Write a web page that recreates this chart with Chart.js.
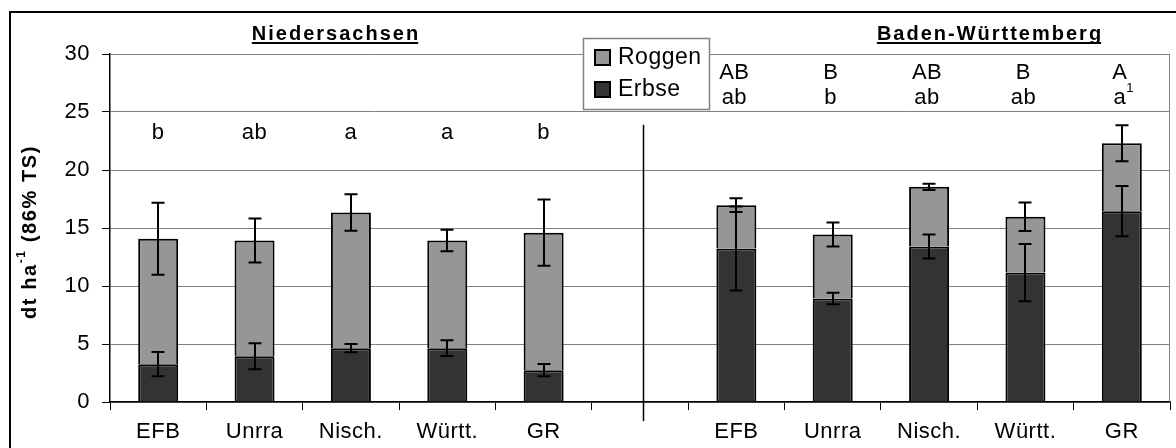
<!DOCTYPE html>
<html><head><meta charset="utf-8">
<script src="https://cdn.jsdelivr.net/npm/chart.js@4/dist/chart.umd.min.js"></script>
<style>html,body{margin:0;padding:0;background:#fff;}#wrap{width:1176px;height:448px;}</style>
</head><body><div id="wrap"><canvas id="c" width="1176" height="448"></canvas></div>
<script>
// ---- data ----
const categories = ['EFB','Unrra','Nisch.','Württ.','GR','','EFB','Unrra','Nisch.','Württ.','GR'];
const erbse      = [3.26, 3.95, 4.64, 4.64, 2.74, null, 13.23, 8.92, 13.40, 11.16, 16.45];
const roggen     = [10.81, 9.97, 11.70, 9.28, 11.86, null, 3.74, 5.52, 5.15, 4.81, 5.86];
const erbseErr   = [1.05, 1.12, 0.35, 0.68, 0.53, null, 3.62, 0.50, 1.03, 2.47, 2.17];
const totalErr   = [3.10, 1.90, 1.57, 0.93, 2.85, null, 0.60, 1.03, 0.27, 1.22, 1.55];
const lettersLower = ['b','ab','a','a','b','','ab','b','ab','ab','a'];
const lettersUpper = ['','','','','','','AB','B','AB','B','A'];
const footnotes    = ['','','','','','','','','','','1'];
const groupTitles  = ['Niedersachsen','Baden-Württemberg'];
const yTicks = [0,5,10,15,20,25,30];
const yTitle = ['dt ha','-1',' (86% TS)'];

const FONT = '"Liberation Sans", Arial, Helvetica, sans-serif';
function spacing(ctx, v){ try { ctx.letterSpacing = v; } catch(e){} }

const deco = {
  id:'deco',
  beforeDraw(chart){ spacing(chart.ctx, '0.5px'); },
  afterDatasetsDraw(chart){
    const ctx = chart.ctx, x = chart.scales.x, y = chart.scales.y;
    ctx.save();
    ctx.strokeStyle = '#000'; ctx.lineWidth = 2;
    const cap = 6.5;
    function eb(px, v, e){
      const t = y.getPixelForValue(v+e), b = y.getPixelForValue(v-e);
      ctx.beginPath();
      ctx.moveTo(px, t); ctx.lineTo(px, b);
      ctx.moveTo(px-cap, t); ctx.lineTo(px+cap, t);
      ctx.moveTo(px-cap, b); ctx.lineTo(px+cap, b);
      ctx.stroke();
    }
    categories.forEach((c,i)=>{
      if (erbse[i]==null) return;
      const px = Math.round(x.getPixelForValue(i));
      eb(px, erbse[i], erbseErr[i]);
      eb(px, erbse[i]+roggen[i], totalErr[i]);
    });
    ctx.restore();
  },
  afterDraw(chart){
    const ctx = chart.ctx, x = chart.scales.x, y = chart.scales.y, a = chart.chartArea;
    ctx.save();
    // right plot border
    ctx.strokeStyle = '#808080'; ctx.lineWidth = 1;
    ctx.beginPath(); ctx.moveTo(a.right-0.5, a.top); ctx.lineTo(a.right-0.5, a.bottom); ctx.stroke();
    // divider
    const dx = Math.round(x.getPixelForValue(5)) + 3.5;
    ctx.strokeStyle = '#000'; ctx.lineWidth = 1.5;
    ctx.beginPath(); ctx.moveTo(dx, y.getPixelForValue(23.9)); ctx.lineTo(dx, a.bottom + 19); ctx.stroke();
    // letters
    spacing(ctx, '0.5px');
    ctx.fillStyle = '#000'; ctx.textAlign = 'center'; ctx.textBaseline = 'middle';
    ctx.font = '22px ' + FONT;
    categories.forEach((c,i)=>{
      const px = x.getPixelForValue(i) - 2;
      if (lettersUpper[i]) {
        ctx.fillText(lettersUpper[i], px, y.getPixelForValue(28.35));
        ctx.fillText(lettersLower[i], px, y.getPixelForValue(26.25));
        if (footnotes[i]) {
          const w = ctx.measureText(lettersLower[i]).width;
          ctx.save(); ctx.font = '13px ' + FONT; ctx.textAlign='left';
          ctx.fillText(footnotes[i], px + w/2, y.getPixelForValue(26.25) - 9);
          ctx.restore();
        }
      } else if (lettersLower[i]) {
        ctx.fillText(lettersLower[i], px + 2, y.getPixelForValue(23.2));
      }
    });
    // group titles
    ctx.font = 'bold 20px ' + FONT;
    spacing(ctx, '2px');
    const tc = [336, 990];
    groupTitles.forEach((t,k)=>{
      const w = ctx.measureText(t).width;
      ctx.textAlign = 'left'; ctx.textBaseline = 'alphabetic';
      ctx.fillText(t, tc[k]-w/2, 40);
      ctx.fillRect(tc[k]-w/2, 42, w-2, 2);
    });
    // legend
    const lx = 583, ly = 38, lw = 126, lh = 71;
    ctx.fillStyle = '#fff'; ctx.fillRect(lx, ly, lw, lh);
    ctx.strokeStyle = '#808080'; ctx.lineWidth = 1.5; ctx.strokeRect(lx+0.5, ly+0.5, lw, lh);
    const ds = chart.data.datasets;
    spacing(ctx, '0.5px');
    [ds[1], ds[0]].forEach((d,k)=>{
      const cy = ly + 19 + k*32;
      ctx.fillStyle = d.backgroundColor; ctx.fillRect(lx+12, cy-7, 15, 15);
      ctx.strokeStyle = '#000'; ctx.lineWidth = 2; ctx.strokeRect(lx+12, cy-7, 15, 15);
      ctx.fillStyle = '#000'; ctx.font = '23px ' + FONT; ctx.textAlign='left'; ctx.textBaseline='middle';
      ctx.fillText(d.label, lx+35, cy+1);
    });
    // y title
    ctx.save();
    ctx.translate(30, (a.top + a.bottom)/2 + 4);
    ctx.rotate(-Math.PI/2);
    spacing(ctx, '1.6px');
    const f1 = 'bold 20px ' + FONT, f2 = 'bold 12px ' + FONT;
    ctx.font = f1; const w1 = ctx.measureText(yTitle[0]).width, w3 = ctx.measureText(yTitle[2]).width;
    ctx.font = f2; const w2 = ctx.measureText(yTitle[1]).width;
    let sx = -(w1+w2+w3)/2;
    ctx.fillStyle = '#000'; ctx.textAlign='left'; ctx.textBaseline='middle';
    ctx.font = f1; ctx.fillText(yTitle[0], sx, 0); sx += w1;
    ctx.font = f2; ctx.fillText(yTitle[1], sx, -8); sx += w2;
    ctx.font = f1; ctx.fillText(yTitle[2], sx, 0);
    ctx.restore();
    // outer border
    ctx.strokeStyle = '#000'; ctx.lineWidth = 2;
    ctx.strokeRect(10, 12, 1200, 500);
    ctx.restore();
    spacing(ctx, '0px');
  }
};

new Chart(document.getElementById('c'), {
  type:'bar',
  data:{ labels:categories, datasets:[
    {label:'Erbse', data:erbse, backgroundColor:'#333333', borderColor:'#000', borderWidth:2},
    {label:'Roggen', data:roggen, backgroundColor:'#969696', borderColor:'#000', borderWidth:2}
  ]},
  options:{
    responsive:false, animation:false, devicePixelRatio:1,
    layout:{padding:{top:54, right:6, left:0, bottom:0}},
    plugins:{legend:{display:false}, tooltip:{enabled:false}},
    datasets:{bar:{barPercentage:0.415, categoryPercentage:1}},
    scales:{
      x:{stacked:true,
         grid:{display:true, drawOnChartArea:false, drawTicks:true, tickLength:8, color:'#000', offset:true},
         border:{display:true, color:'#000', width:1.5},
         ticks:{font:{family:FONT, size:22}, color:'#000', padding:9, maxRotation:0, autoSkip:false},
         afterFit(s){ s.height = 46; }},
      y:{stacked:true, min:0, max:30,
         afterBuildTicks(s){ s.ticks = yTicks.map(v=>({value:v})); },
         ticks:{font:{family:FONT, size:22}, color:'#000', padding:12},
         grid:{color:'#808080', tickColor:'#000', tickLength:8},
         border:{color:'#000', width:1.5},
         afterFit(s){ s.width = 110; }}
    }
  },
  plugins:[deco]
});
</script></body></html>
